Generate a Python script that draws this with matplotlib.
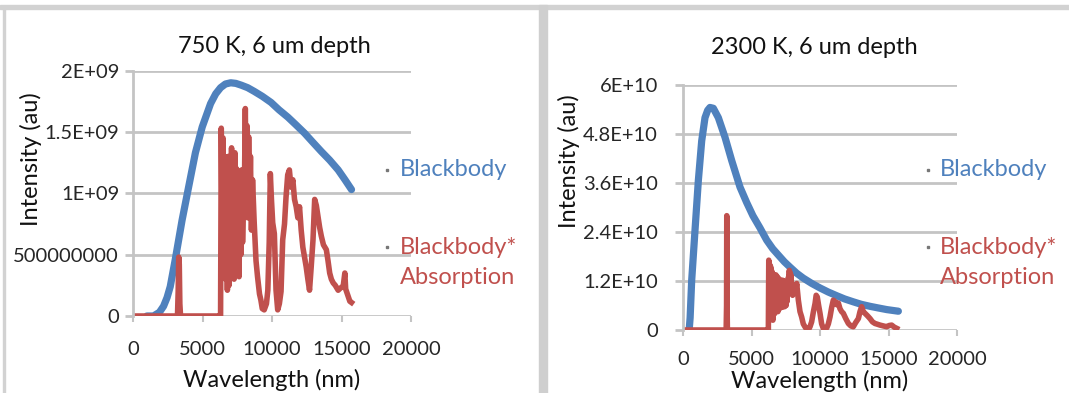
import matplotlib
matplotlib.use("Agg")
import matplotlib.pyplot as plt
from matplotlib.lines import Line2D
from matplotlib.patches import Rectangle

# ---- 750 K panel (intensity in units of 1E+09) ----
bb750_x = [1000, 1470, 1900, 2200, 2450, 2680, 3040, 3530, 4000, 4490, 4980,
           5580, 5950, 6300, 6650, 7030, 7400, 7800, 8250, 8720, 9300, 9930,
           10500, 11140, 11700, 12340, 12900, 13550, 14150, 14760, 15250, 15720]
bb750_y = [0, 0, 0.03, 0.08, 0.15, 0.24, 0.46, 0.78, 1.05, 1.33, 1.54,
           1.73, 1.81, 1.86, 1.89, 1.90, 1.895, 1.88, 1.86, 1.83, 1.79, 1.74,
           1.68, 1.62, 1.56, 1.49, 1.42, 1.34, 1.27, 1.19, 1.11, 1.03]

abs750_x = [0, 3200, 3250, 3290, 3330, 3370, 3420, 6250, 6300,
            6350, 6420, 6480, 6550, 6600, 6660, 6720, 6790, 6850, 6910, 6970,
            7030, 7090, 7150, 7210, 7270, 7330, 7390, 7450, 7510, 7570, 7630,
            7700, 7760, 7820, 7880, 7950, 8020, 8080, 8140, 8200, 8260, 8320,
            8390, 8450, 8520, 8600, 8720, 8850, 8960, 9100, 9200, 9300, 9440,
            9600, 9700, 9800, 9880, 9960, 10050, 10170, 10290, 10410, 10530,
            10650, 10770, 10900, 11010, 11130, 11250, 11370, 11500, 11620,
            11740, 11860, 11980, 12100, 12220, 12340, 12460, 12580, 12700,
            12820, 12950, 13070, 13190, 13310, 13430, 13550, 13700, 13910,
            14030, 14150, 14270, 14400, 14550, 14760, 14950, 15120, 15240,
            15300, 15480, 15600, 15720]
abs750_y = [0, 0, 0.20, 0.48, 0.42, 0.10, 0, 0, 0,
            1.53, 0.60, 1.45, 0.35, 1.30, 0.30, 1.20, 0.21, 1.30, 0.25, 1.15,
            0.35, 1.37, 0.40, 1.30, 0.30, 1.33, 0.45, 1.20, 0.35, 1.00, 0.32,
            1.10, 0.50, 1.19, 0.60, 0.90, 1.10, 1.69, 1.00, 1.55, 0.80, 1.46,
            0.90, 1.30, 0.70, 1.11, 0.76, 0.45, 0.32, 0.18, 0.13, 0.06, 0.05,
            0.10, 0.21, 0.60, 1.16, 0.95, 0.76, 0.67, 0.21, 0.05, 0.10,
            0.20, 0.62, 0.75, 0.97, 1.15, 1.19, 1.05, 1.11, 0.95,
            0.89, 0.80, 0.89, 0.70, 0.56, 0.48, 0.40, 0.30, 0.21,
            0.40, 0.62, 0.95, 0.90, 0.81, 0.72, 0.65, 0.58, 0.54,
            0.45, 0.35, 0.30, 0.27, 0.25, 0.21, 0.23, 0.24, 0.35,
            0.22, 0.16, 0.12, 0.11]

# ---- 2300 K panel (intensity in units of 1E+10) ----
bb2300_x = [450, 520, 635, 876, 1120, 1365, 1606, 1800, 1970, 2215, 2580, 3066,
            3555, 4160, 4650, 5100, 5620, 6110, 6550, 7000, 7400, 7810, 8300,
            8780, 9400, 10000, 10600, 11220, 11800, 12430, 13000, 13650, 14250,
            14870, 15720]
bb2300_y = [0, 0.30, 1.22, 2.44, 3.66, 4.63, 5.20, 5.38, 5.45, 5.43, 5.20, 4.72,
            4.15, 3.50, 3.12, 2.80, 2.50, 2.20, 1.99, 1.82, 1.67, 1.54, 1.39,
            1.27, 1.14, 1.03, 0.93, 0.84, 0.76, 0.69, 0.63, 0.58, 0.54,
            0.50, 0.46]

abs2300_x = [0, 3150, 3180, 3195, 3210, 3240, 6200, 6230,
             6260, 6300, 6330, 6370, 6400, 6440, 6470, 6500, 6530, 6560, 6590,
             6630, 6660, 6690, 6720, 6750, 6780, 6810, 6840, 6870, 6900, 6930,
             6960, 6990, 7020, 7050, 7080, 7110, 7150, 7180, 7200, 7230, 7260,
             7290, 7320, 7350, 7380, 7410, 7440, 7470, 7500, 7530, 7570, 7600,
             7640, 7670, 7700, 7730, 7760, 7790, 7820, 7850, 7880, 7920, 7950,
             8000, 8050, 8100, 8150, 8220, 8300, 8420, 8540,
             8660, 8780, 8900, 9020, 9150, 9270, 9390, 9520, 9640, 9720, 9800,
             9900, 10000, 10120, 10240, 10370, 10490, 10610, 10730, 10850,
             10970, 11090, 11220, 11340, 11460, 11580, 11700, 11880, 12070,
             12250, 12430, 12600, 12800, 12920, 13040, 13160, 13280, 13460,
             13650, 13830, 14010, 14200, 14380, 14620, 14870, 15050, 15230,
             15420, 15600]
abs2300_y = [0, 0, 0.6, 2.80, 0.8, 0, 0, 0,
             1.71, 0.80, 1.60, 0.70, 1.55, 0.50, 1.45, 0.40, 1.40, 0.24, 1.35,
             0.45, 1.30, 0.40, 1.25, 0.55, 1.35, 0.60, 1.20, 0.50, 1.30, 0.45,
             1.20, 0.50, 1.25, 0.73, 1.10, 0.55, 1.20, 0.55, 1.00, 0.60, 1.22,
             0.57, 1.15, 0.60, 1.20, 0.57, 1.05, 0.65, 1.00, 0.60, 1.10, 0.70,
             1.20, 0.90, 1.30, 1.00, 1.46, 1.05, 1.40, 0.95, 1.35, 0.90, 1.10,
             0.85, 1.06, 0.90, 1.10, 0.95, 1.14, 0.73, 0.45,
             0.32, 0.15, 0.08, 0.02, 0.00, 0.08, 0.20, 0.45, 0.65, 0.85, 0.81,
             0.60, 0.41, 0.15, 0.04, 0.02, 0.05, 0.15, 0.32, 0.55,
             0.73, 0.70, 0.62, 0.66, 0.52, 0.45, 0.41, 0.28, 0.16,
             0.10, 0.08, 0.18, 0.28, 0.45, 0.57, 0.45, 0.41, 0.35,
             0.28, 0.20, 0.16, 0.14, 0.12, 0.10, 0.08, 0.11, 0.12,
             0.07, 0.04]

x_ticks = [0, 5000, 10000, 15000, 20000]
y750_ticks = [0, 0.5, 1.0, 1.5, 2.0]
y750_labels = ['0', '500000000', '1E+09', '1.5E+09', '2E+09']
y2300_ticks = [0, 1.2, 2.4, 3.6, 4.8, 6.0]
y2300_labels = ['0', '1.2E+10', '2.4E+10', '3.6E+10', '4.8E+10', '6E+10']

BLUE = '#4f81bd'
RED = '#c0504d'
GRID = '#c4c4c4'
TXT = '#262626'
FS = 17
TFS = 14.5

plt.rcParams['font.family'] = ['Lato', 'DejaVu Sans']

W, H = 1069, 393
fig = plt.figure(figsize=(W / 100, H / 100), dpi=100)


def px_rect(l, t, r, b):
    return [l / W, 1 - b / H, (r - l) / W, (b - t) / H]


def make_panel(rect, ymax, yticks, ylabels, title, title_xy, ylab_xy, xlab_y,
               ypad, xpad):
    ax = fig.add_axes(rect)
    ax.set_xlim(0, 20000)
    ax.set_ylim(0, ymax)
    ax.set_xticks(x_ticks)
    ax.set_xticklabels([str(t) for t in x_ticks])
    ax.set_yticks(yticks)
    ax.set_yticklabels(ylabels)
    ax.grid(axis='y', color=GRID, lw=2)
    ax.set_axisbelow(True)
    for s in ['top', 'right', 'bottom']:
        ax.spines[s].set_visible(False)
    ax.spines['left'].set_color(GRID)
    ax.spines['left'].set_linewidth(2)
    ax.tick_params(axis='y', length=6, width=2, color=GRID, pad=ypad,
                   labelsize=TFS, labelcolor=TXT)
    ax.tick_params(axis='x', length=4, width=1.5, color=GRID, pad=xpad,
                   labelsize=TFS, labelcolor=TXT)
    ax.text(title_xy[0], title_xy[1], title, transform=ax.transAxes, ha='center',
            va='center', fontsize=FS, color='#111111')
    ax.set_ylabel('Intensity (au)', fontsize=FS, color='#111111')
    ax.yaxis.set_label_coords(*ylab_xy)
    ax.yaxis.label.set_va('center')
    ax.set_xlabel('Wavelength (nm)', fontsize=FS, color='#111111')
    ax.xaxis.set_label_coords(0.5, xlab_y)
    ax.xaxis.label.set_va('center')
    return ax


ax1 = make_panel(px_rect(133, 70.5, 411, 316), 2.0, y750_ticks, y750_labels,
                 '750 K, 6 um depth', (0.51, 1.096), (-0.367, 0.64), -0.262,
                 4, 14)
ax1.plot(bb750_x, bb750_y, color=BLUE, lw=5.2, solid_capstyle='round',
         solid_joinstyle='round')
ax1.plot(abs750_x, abs750_y, color=RED, lw=4, solid_joinstyle='round')

ax2 = make_panel(px_rect(683, 85, 957, 330), 6.0, y2300_ticks, y2300_labels,
                 '2300 K, 6 um depth', (0.478, 1.155), (-0.415, 0.69), -0.21,
                 12, 11)
ax2.plot(bb2300_x, bb2300_y, color=BLUE, lw=5.2, solid_capstyle='round',
         solid_joinstyle='round')
ax2.plot(abs2300_x, abs2300_y, color=RED, lw=4, solid_joinstyle='round')

# legends (text entries at the right of each plot)
for dot_x, txt_x in [(387, 400), (928, 940)]:
    for yy in [170, 247]:
        fig.add_artist(Line2D([dot_x / W], [1 - yy / H], marker='s', ms=1.6,
                              color='#777777', transform=fig.transFigure))
    fig.text(txt_x / W, 1 - 170 / H, 'Blackbody', color=BLUE, fontsize=FS,
             va='center', ha='left')
    fig.text(txt_x / W, 1 - 247 / H, 'Blackbody*', color=RED, fontsize=FS,
             va='center', ha='left')
    fig.text(txt_x / W, 1 - 277 / H, 'Absorption', color=RED, fontsize=FS,
             va='center', ha='left')

# chart frames
fig.patches.append(Rectangle((0, 1 - 9 / H), 1, 4 / H, transform=fig.transFigure,
                             color='#d2d2d2', zorder=0))
fig.patches.append(Rectangle((3 / W, 0), 2 / W, 1 - 9 / H, transform=fig.transFigure,
                             color='#d2d2d2', zorder=0))
fig.patches.append(Rectangle((539 / W, 0), 8 / W, 1 - 5 / H, transform=fig.transFigure,
                             color='#cfcfcf', zorder=0))

fig.savefig('out.png', dpi=100)
